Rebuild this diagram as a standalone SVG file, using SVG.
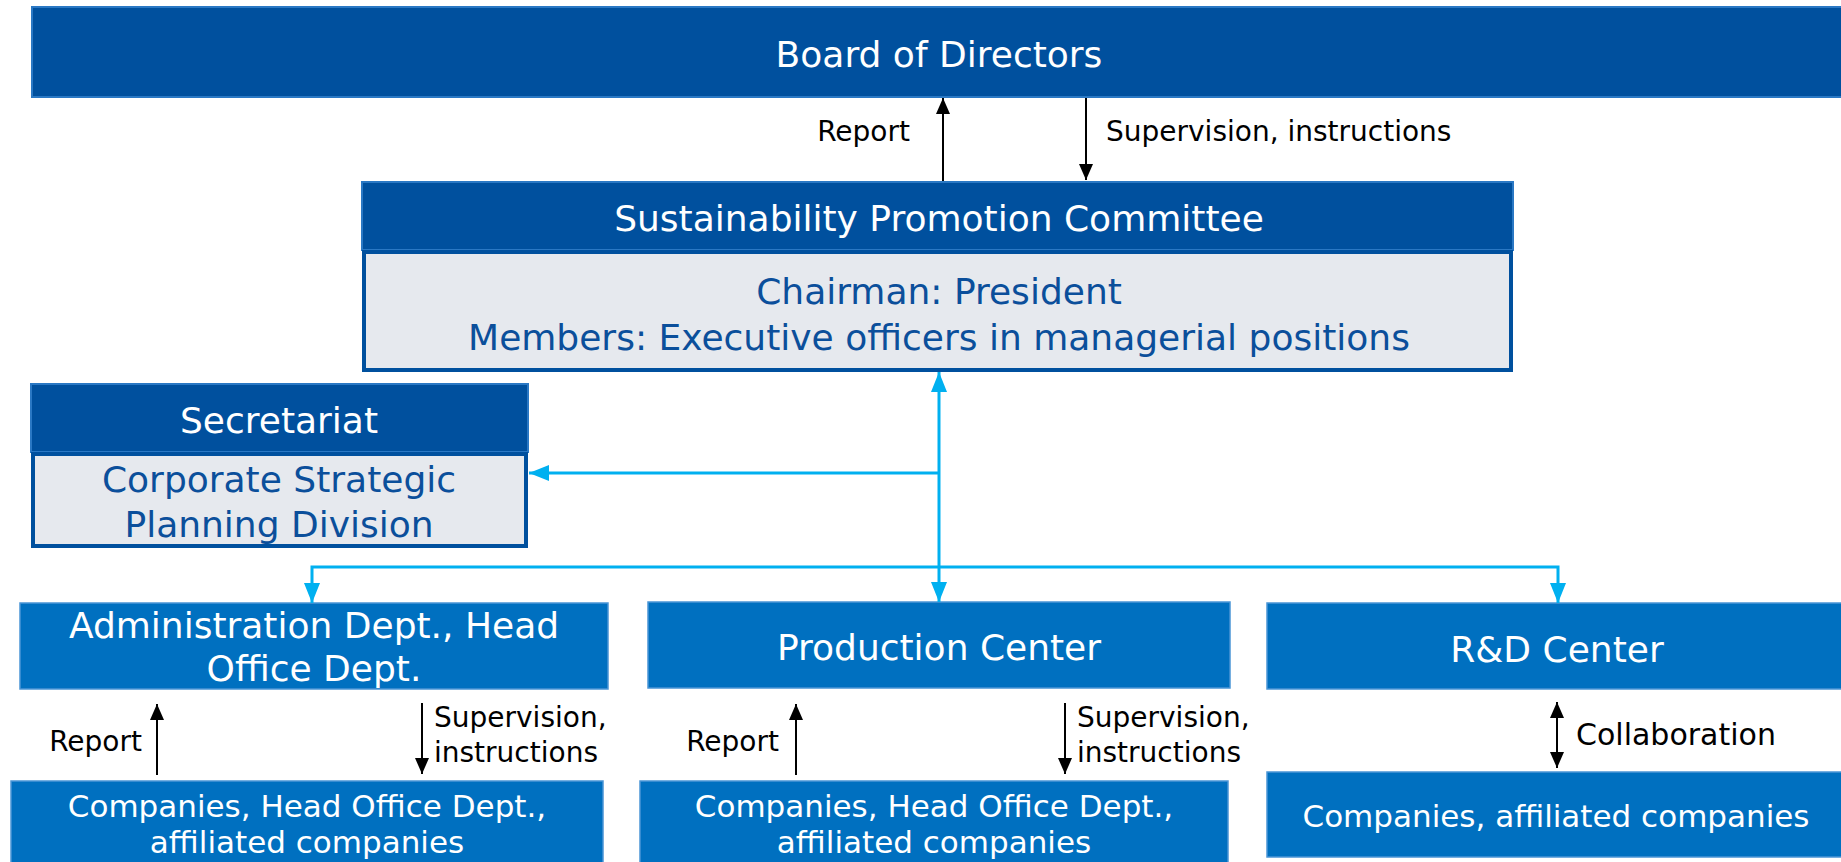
<svg xmlns="http://www.w3.org/2000/svg" width="1841" height="862" viewBox="0 0 1841 862">
  <style>
    text { font-family: "DejaVu Sans", Verdana, sans-serif; }
    .hdr { fill: #00509e; stroke: #2a78c4; stroke-width: 2; }
    .body { fill: #e6e9ee; stroke: #00509e; stroke-width: 4; }
    .unit { fill: #0070c0; stroke: #4a95d6; stroke-width: 1.5; }
    .wt { fill: #ffffff; font-size: 36px; text-anchor: middle; }
    .bt { fill: #0b4f9b; font-size: 36px; text-anchor: middle; }
    .ct { fill: #ffffff; font-size: 31px; text-anchor: middle; }
    .lbl { fill: #000000; font-size: 28px; }
    .blk { stroke: #000000; stroke-width: 2; fill: none; }
    .cyan { stroke: #00b0f0; stroke-width: 3; fill: none; }
  </style>
  <defs>
    <marker id="arrBlk" viewBox="0 0 16 14" refX="16" refY="7" markerWidth="16" markerHeight="14" markerUnits="userSpaceOnUse" orient="auto-start-reverse">
      <path d="M0,0 L16,7 L0,14 z" fill="#000000"/>
    </marker>
    <marker id="arrCyan" viewBox="0 0 20 16" refX="20" refY="8" markerWidth="20" markerHeight="16" markerUnits="userSpaceOnUse" orient="auto-start-reverse">
      <path d="M0,0 L20,8 L0,16 z" fill="#00b0f0"/>
    </marker>
  </defs>

  <!-- Board -->
  <g id="board">
    <rect class="hdr" x="32" y="7" width="1815" height="90"/>
    <text class="wt" x="939" y="67">Board of Directors</text>
  </g>

  <!-- Committee -->
  <g id="committee">
    <rect class="hdr" x="362" y="182" width="1151" height="68"/>
    <text class="wt" x="939" y="231">Sustainability Promotion Committee</text>
    <rect class="body" x="364" y="252" width="1147" height="118"/>
    <text class="bt" x="939" y="304">Chairman: President</text>
    <text class="bt" x="939" y="350">Members: Executive officers in managerial positions</text>
  </g>

  <!-- Secretariat -->
  <g id="secretariat">
    <rect class="hdr" x="31" y="384" width="497" height="68"/>
    <text class="wt" x="279" y="433">Secretariat</text>
    <rect class="body" x="33" y="454" width="493" height="92"/>
    <text class="bt" x="279" y="492">Corporate Strategic</text>
    <text class="bt" x="279" y="537">Planning Division</text>
  </g>

  <!-- Divisions -->
  <g id="admin">
    <rect class="unit" x="20" y="603" width="588" height="86"/>
    <text class="wt" x="314" y="638">Administration Dept., Head</text>
    <text class="wt" x="314" y="681">Office Dept.</text>
  </g>
  <g id="production">
    <rect class="unit" x="648" y="602" width="582" height="86"/>
    <text class="wt" x="939" y="660">Production Center</text>
  </g>
  <g id="rnd">
    <rect class="unit" x="1267" y="603" width="580" height="86"/>
    <text class="wt" x="1557" y="662">R&amp;D Center</text>
  </g>

  <!-- Group companies -->
  <g id="admin-companies">
    <rect class="unit" x="11" y="781" width="592" height="90"/>
    <text class="ct" x="307" y="817">Companies, Head Office Dept.,</text>
    <text class="ct" x="307" y="853">affiliated companies</text>
  </g>
  <g id="production-companies">
    <rect class="unit" x="640" y="781" width="588" height="90"/>
    <text class="ct" x="934" y="817">Companies, Head Office Dept.,</text>
    <text class="ct" x="934" y="853">affiliated companies</text>
  </g>
  <g id="rnd-companies">
    <rect class="unit" x="1267" y="772" width="580" height="85"/>
    <text class="ct" x="1556" y="827">Companies, affiliated companies</text>
  </g>

  <!-- Connectors -->
  <g id="connectors">
    <!-- committee and board -->
    <path class="blk" d="M943,181 L943,98" marker-end="url(#arrBlk)"/>
    <path class="blk" d="M1086,98 L1086,180" marker-end="url(#arrBlk)"/>
    <text class="lbl" x="910" y="141" text-anchor="end">Report</text>
    <text class="lbl" x="1106" y="141">Supervision, instructions</text>

    <!-- committee to divisions and secretariat -->
    <path class="cyan" d="M939,602 L939,372" marker-start="url(#arrCyan)" marker-end="url(#arrCyan)"/>
    <path class="cyan" d="M939,473 L529,473" marker-end="url(#arrCyan)"/>
    <path class="cyan" d="M312,603 L312,567 L1558,567 L1558,603" marker-start="url(#arrCyan)" marker-end="url(#arrCyan)"/>

    <!-- administration -->
    <path class="blk" d="M157,775 L157,704" marker-end="url(#arrBlk)"/>
    <path class="blk" d="M422,703 L422,774" marker-end="url(#arrBlk)"/>
    <text class="lbl" x="142" y="751" text-anchor="end">Report</text>
    <text class="lbl" x="434" y="727">Supervision,</text>
    <text class="lbl" x="434" y="762">instructions</text>

    <!-- production -->
    <path class="blk" d="M796,775 L796,704" marker-end="url(#arrBlk)"/>
    <path class="blk" d="M1065,703 L1065,774" marker-end="url(#arrBlk)"/>
    <text class="lbl" x="779" y="751" text-anchor="end">Report</text>
    <text class="lbl" x="1077" y="727">Supervision,</text>
    <text class="lbl" x="1077" y="762">instructions</text>

    <!-- research -->
    <path class="blk" d="M1557,702 L1557,768" marker-start="url(#arrBlk)" marker-end="url(#arrBlk)"/>
    <text class="lbl" x="1576" y="745" style="font-size:30px">Collaboration</text>
  </g>
</svg>
